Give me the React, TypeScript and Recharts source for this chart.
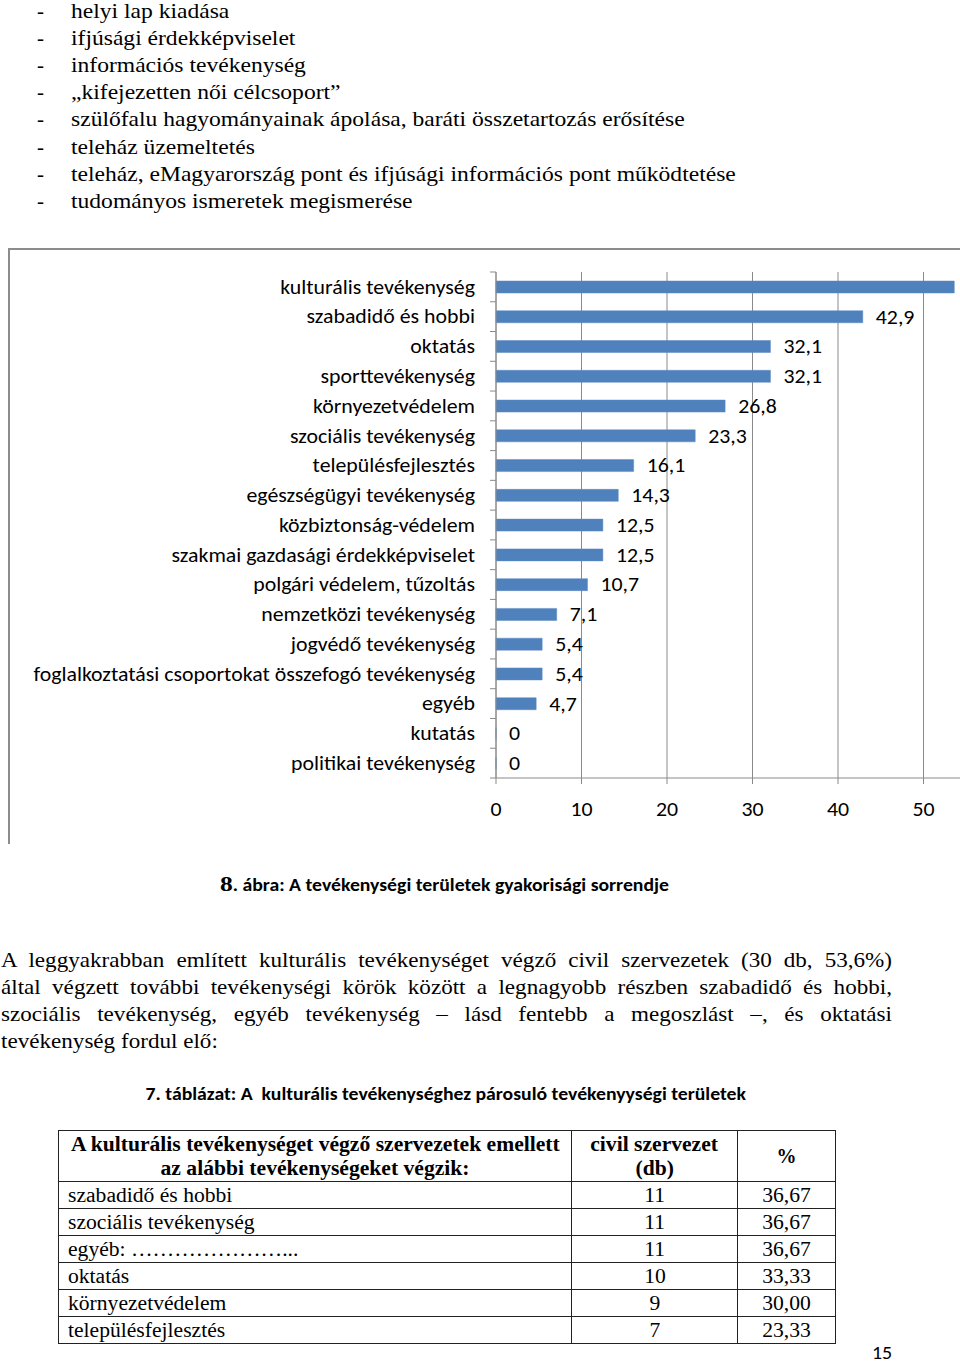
import React from "react";
import { Bar, BarChart, CartesianGrid, LabelList, XAxis, YAxis } from "recharts";

// tevékenységi területek gyakorisága (%)
const categories = [
  "kulturális tevékenység",
  "szabadidő és hobbi",
  "oktatás",
  "sporttevékenység",
  "környezetvédelem",
  "szociális tevékenység",
  "településfejlesztés",
  "egészségügyi tevékenység",
  "közbiztonság-védelem",
  "szakmai gazdasági érdekképviselet",
  "polgári védelem, tűzoltás",
  "nemzetközi tevékenység",
  "jogvédő tevékenység",
  "foglalkoztatási csoportokat összefogó tevékenység",
  "egyéb",
  "kutatás",
  "politikai tevékenység",
];
const shares = [53.6, 42.9, 32.1, 32.1, 26.8, 23.3, 16.1, 14.3, 12.5, 12.5, 10.7, 7.1, 5.4, 5.4, 4.7, 0, 0];
const xTicks = [0, 10, 20, 30, 40, 50];

const bulletItems = [
  "helyi lap kiadása",
  "ifjúsági érdekképviselet",
  "információs tevékenység",
  "„kifejezetten női célcsoport”",
  "szülőfalu hagyományainak ápolása, baráti összetartozás erősítése",
  "teleház üzemeltetés",
  "teleház, eMagyarország pont és ifjúsági információs pont működtetése",
  "tudományos ismeretek megismerése",
];

const paragraphLines = [
  "A leggyakrabban említett kulturális tevékenységet végző civil szervezetek (30 db, 53,6%)",
  "által végzett további tevékenységi körök között a legnagyobb részben szabadidő és hobbi,",
  "szociális tevékenység, egyéb tevékenység – lásd fentebb a megoszlást –, és oktatási",
  "tevékenység fordul elő:",
];

const tableRows = ["szabadidő és hobbi", "szociális tevékenység", "egyéb: …………………...", "oktatás", "környezetvédelem", "településfejlesztés"];
const tableCounts = [11, 11, 11, 10, 9, 7];
const tablePct = ["36,67", "36,67", "36,67", "33,33", "30,00", "23,33"];

const data = categories.map((name, i) => ({ name, value: shares[i] }));

const SERIF = "'Liberation Serif', 'DejaVu Serif', serif";
const CAL = "Carlito, 'Liberation Sans Narrow', 'Open Sans', sans-serif";
const AXIS_COLOR = "#8a8a8a";
const AXIS_X = 488; // y-axis position inside chart
const SX = 1.12; // the scan is a bit wider than the fonts

// horizontally stretched inline text
function Sx({ children, origin = "left", k = SX }: { children: React.ReactNode; origin?: string; k?: number }) {
  return <span style={{ display: "inline-block", transform: `scaleX(${k})`, transformOrigin: origin, whiteSpace: "pre" }}>{children}</span>;
}

function CatTick(props: any) {
  const { y, payload, index } = props;
  const half = payload.offset || 506 / 17 / 2;
  return (
    <g>
      <line x1={AXIS_X - 6} x2={AXIS_X} y1={y - half} y2={y - half} stroke={AXIS_COLOR} />
      {index === categories.length - 1 && <line x1={AXIS_X - 6} x2={AXIS_X} y1={y + half} y2={y + half} stroke={AXIS_COLOR} />}
      <text transform={`translate(${AXIS_X - 21},${y}) scale(${SX},1)`} dy="0.35em" textAnchor="end" fontSize={19.5} fill="#000" fontFamily={CAL}>
        {payload.value}
      </text>
    </g>
  );
}

function XTick(props: any) {
  const { x, y, payload } = props;
  return (
    <text transform={`translate(${x},${y}) scale(${SX},1)`} dy="0.71em" textAnchor="middle" fontSize={19.5} fill="#000" fontFamily={CAL}>
      {payload.value}
    </text>
  );
}

function ValueLabel(props: any) {
  const { x, y, width, height, value } = props;
  const lx = Number(x) + Number(value ? width : 0) + 13;
  const ly = Number(y) + Number(height) / 2;
  return (
    <text transform={`translate(${lx},${ly}) scale(${SX},1)`} dy="0.35em" textAnchor="start" fontSize={19.5} fill="#000" fontFamily={CAL}>
      {String(value).replace(".", ",")}
    </text>
  );
}

function ActivityChart() {
  return (
    <BarChart
      width={1001}
      height={594}
      data={data}
      layout="vertical"
      margin={{ top: 24, right: 0, left: 0, bottom: 24 }}
      barCategoryGap={0}
    >
      <CartesianGrid horizontal={false} stroke={AXIS_COLOR} strokeWidth={1} />
      <XAxis
        type="number"
        domain={[0, 60]}
        ticks={xTicks}
        interval={0}
        height={40}
        stroke={AXIS_COLOR}
        tickSize={6}
        tickMargin={18}
        tick={<XTick />}
      />
      <YAxis type="category" dataKey="name" width={488} interval={0} stroke={AXIS_COLOR} tickLine={false} tick={<CatTick />} />
      <Bar
        dataKey="value"
        fill="#4f81bd"
        stroke="#5a8ac4"
        strokeWidth={0.5}
        barSize={12}
        minPointSize={(v: number) => (v === 0 ? 0.01 : 0)}
        isAnimationActive={false}
      >
        <LabelList dataKey="value" content={<ValueLabel />} />
      </Bar>
    </BarChart>
  );
}

const cell: React.CSSProperties = { border: "1.5px solid #222", padding: "0 9px", height: 26, lineHeight: "24px", whiteSpace: "nowrap" };
const TK = 1.08;

export default function App() {
  return (
    <div style={{ position: "absolute", left: 0, top: 0, width: 960, height: 1364, overflow: "hidden", background: "#fff", color: "#000" }}>
      {bulletItems.map((t, i) => (
        <div key={i} style={{ position: "absolute", top: -2 + i * 27.1, left: 0, height: 27, lineHeight: "27px", fontFamily: SERIF, fontSize: 21, whiteSpace: "nowrap" }}>
          <span style={{ position: "absolute", left: 37 }}>-</span>
          <span style={{ position: "absolute", left: 71 }}>
            <Sx k={1.122}>{t}</Sx>
          </span>
        </div>
      ))}

      {/* chart frame */}
      <div style={{ position: "absolute", left: 8, top: 248, width: 960, height: 594, borderLeft: "2px solid #8c8c8c", borderTop: "2px solid #8c8c8c" }} />
      <div style={{ position: "absolute", left: 8, top: 248, width: 952, height: 594, overflow: "hidden" }}>
        <ActivityChart />
      </div>

      <div style={{ position: "absolute", top: 870, left: 0, width: 890, textAlign: "center", lineHeight: "28px", whiteSpace: "nowrap" }}>
        <Sx origin="center" k={1.16}>
          <span style={{ fontFamily: SERIF, fontSize: 22, fontWeight: "bold" }}>8</span>
          <span style={{ fontFamily: CAL, fontSize: 17, fontWeight: "bold" }}>. ábra: A tevékenységi területek gyakorisági sorrendje</span>
        </Sx>
      </div>

      {paragraphLines.map((t, i) => (
        <div
          key={i}
          style={{
            position: "absolute",
            top: 947 + i * 27,
            left: 1,
            width: 891 / 1.1,
            height: 27,
            lineHeight: "27px",
            fontFamily: SERIF,
            fontSize: 21,
            textAlign: "justify",
            textAlignLast: i < paragraphLines.length - 1 ? "justify" : "left",
            whiteSpace: "nowrap",
            transform: "scaleX(1.1)",
            transformOrigin: "left",
          }}
        >
          {t}
        </div>
      ))}

      <div style={{ position: "absolute", top: 1082, left: 0, width: 892, textAlign: "center", lineHeight: "26px", fontFamily: CAL, fontSize: 17, fontWeight: "bold", whiteSpace: "pre" }}>
        <Sx origin="center" k={1.16}>7. táblázat: A  kulturális tevékenységhez párosuló tevékenyységi területek</Sx>
      </div>

      <table style={{ position: "absolute", left: 58, top: 1130, borderCollapse: "collapse", fontFamily: SERIF, fontSize: 20, tableLayout: "fixed", width: 777 }}>
        <colgroup>
          <col style={{ width: 513 }} />
          <col style={{ width: 166 }} />
          <col style={{ width: 98 }} />
        </colgroup>
        <tbody>
          <tr>
            <td style={{ ...cell, height: 50, lineHeight: "24px", fontWeight: "bold", textAlign: "center" }}>
              <Sx origin="center" k={TK}>A kulturális tevékenységet végző szervezetek emellett</Sx>
              <br />
              <Sx origin="center" k={TK}>az alábbi tevékenységeket végzik:</Sx>
            </td>
            <td style={{ ...cell, height: 50, lineHeight: "24px", fontWeight: "bold", textAlign: "center" }}>
              <Sx origin="center" k={TK}>civil szervezet</Sx>
              <br />
              <Sx origin="center" k={TK}>(db)</Sx>
            </td>
            <td style={{ ...cell, height: 50, fontWeight: "bold", textAlign: "center" }}>%</td>
          </tr>
          {tableRows.map((r, i) => (
            <tr key={i}>
              <td style={cell}>
                <Sx k={TK}>{r}</Sx>
              </td>
              <td style={{ ...cell, textAlign: "center" }}>
                <Sx origin="center" k={TK}>{String(tableCounts[i])}</Sx>
              </td>
              <td style={{ ...cell, textAlign: "center" }}>
                <Sx origin="center" k={TK}>{tablePct[i]}</Sx>
              </td>
            </tr>
          ))}
        </tbody>
      </table>

      <div style={{ position: "absolute", left: 872, top: 1343, lineHeight: "19px", fontFamily: CAL, fontSize: 19 }}>
        <Sx k={1.05}>15</Sx>
      </div>
    </div>
  );
}
